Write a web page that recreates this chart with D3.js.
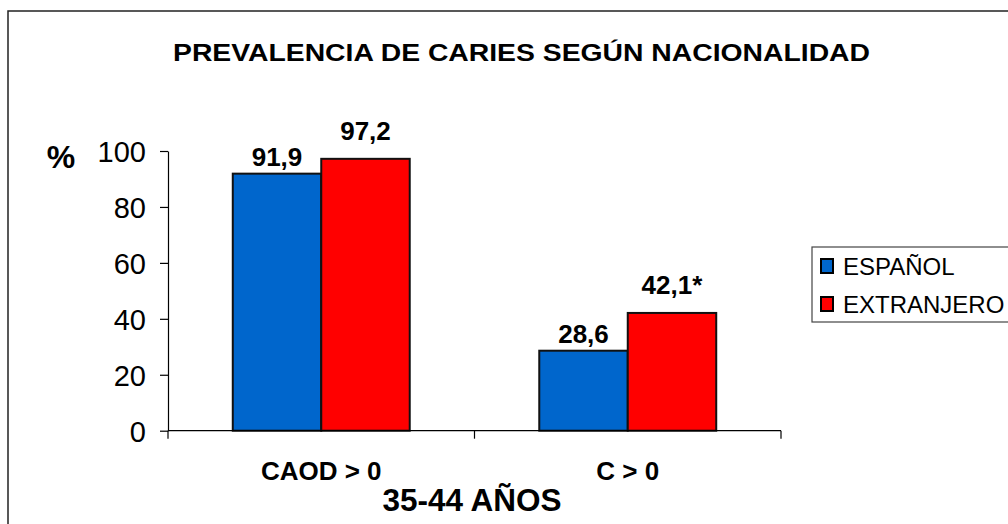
<!DOCTYPE html>
<html>
<head>
<meta charset="utf-8">
<script src="https://cdn.jsdelivr.net/npm/d3@7"></script>
<style>
  html, body { margin: 0; padding: 0; background: #fff; }
  svg { display: block; font-family: Arial, "Liberation Sans", sans-serif; }
</style>
</head>
<body>
<div id="chart"></div>
<script>
const categories = ["CAOD > 0", "C > 0"];
const seriesNames = ["ESPAÑOL", "EXTRANJERO"];
const espanol = [91.9, 28.6];
const extranjero = [97.2, 42.1];
const valueLabels = [["91,9", "28,6"], ["97,2", "42,1*"]];
const yTicks = [0, 20, 40, 60, 80, 100];

const colors = ["#0066cc", "#ff0000"];
const labelLift = [8, 19];
const width = 1008, height = 524;

const svg = d3.select("#chart").append("svg")
    .attr("width", width)
    .attr("height", height);

// outer frame (runs off the right and bottom edges)
svg.append("rect")
    .attr("x", 8).attr("y", 11)
    .attr("width", 1010).attr("height", 530)
    .attr("fill", "none").attr("stroke", "#222").attr("stroke-width", 1.5);

svg.append("text")
    .attr("x", 173).attr("y", 61)
    .attr("textLength", 697).attr("lengthAdjust", "spacingAndGlyphs")
    .style("font-size", "23.5px").style("font-weight", "bold")
    .text("PREVALENCIA DE CARIES SEGÚN NACIONALIDAD");

const x0 = d3.scaleBand().domain(categories).range([168, 781]).padding(0);
const x1 = d3.scaleBand().domain(seriesNames).range([0, x0.bandwidth()])
    .paddingInner(0).paddingOuter(0.732);
const y = d3.scaleLinear().domain([0, 100]).range([430.7, 151]);

// y axis
const yAxis = svg.append("g")
    .attr("transform", `translate(${x0.range()[0]},0)`)
    .call(d3.axisLeft(y).tickValues(yTicks).tickSize(8).tickSizeOuter(0).tickPadding(14));
yAxis.select(".domain").attr("stroke", "#000").attr("stroke-width", 1.2);
yAxis.selectAll(".tick line").attr("stroke", "#000").attr("stroke-width", 1.2);
yAxis.selectAll(".tick text")
    .style("font-size", "29px").style("font-family", "Arial, 'Liberation Sans', sans-serif")
    .attr("fill", "#000").attr("dy", "0.36em");

svg.append("text")
    .attr("x", 61).attr("y", 168)
    .attr("text-anchor", "middle")
    .style("font-size", "32px").style("font-weight", "bold")
    .text("%");

// bars
const seriesValues = [espanol, extranjero];
const barData = [];
categories.forEach((c, ci) => {
    seriesNames.forEach((s, si) => {
        barData.push({ cat: c, series: s, si, value: seriesValues[si][ci], label: valueLabels[si][ci] });
    });
});

svg.append("g").selectAll("rect")
    .data(barData)
    .join("rect")
    .attr("x", d => x0(d.cat) + x1(d.series))
    .attr("y", d => y(d.value))
    .attr("width", x1.bandwidth())
    .attr("height", d => y(0) - y(d.value))
    .attr("fill", d => colors[d.si])
    .attr("stroke", "#111").attr("stroke-width", 2);

svg.append("g").selectAll("text")
    .data(barData)
    .join("text")
    .attr("x", d => x0(d.cat) + x1(d.series) + x1.bandwidth() / 2)
    .attr("y", d => y(d.value) - labelLift[d.si])
    .attr("text-anchor", "middle")
    .style("font-size", "26px").style("font-weight", "bold")
    .text(d => d.label);

// x axis: line with ticks at category boundaries
const xAxis = svg.append("g");
const bounds = categories.map(c => x0(c)).concat([x0.range()[1]]);
xAxis.append("line")
    .attr("x1", x0.range()[0]).attr("x2", x0.range()[1])
    .attr("y1", y(0)).attr("y2", y(0))
    .attr("stroke", "#000").attr("stroke-width", 1.2);
xAxis.selectAll(".xtick")
    .data(bounds)
    .join("line")
    .attr("class", "xtick")
    .attr("x1", d => d).attr("x2", d => d)
    .attr("y1", y(0)).attr("y2", y(0) + 8)
    .attr("stroke", "#000").attr("stroke-width", 1.2);
xAxis.selectAll(".xlabel")
    .data(categories)
    .join("text")
    .attr("class", "xlabel")
    .attr("x", d => x0(d) + x0.bandwidth() / 2)
    .attr("y", 480)
    .attr("text-anchor", "middle")
    .style("font-size", "26px").style("font-weight", "bold")
    .text(d => d);

svg.append("text")
    .attr("x", 472).attr("y", 511)
    .attr("text-anchor", "middle")
    .style("font-size", "31.5px").style("font-weight", "bold")
    .text("35-44 AÑOS");

// legend
const legend = svg.append("g");
legend.append("rect")
    .attr("x", 812).attr("y", 247)
    .attr("width", 210).attr("height", 75)
    .attr("fill", "#fff").attr("stroke", "#444").attr("stroke-width", 1.2);
const items = legend.selectAll(".item")
    .data(seriesNames)
    .join("g")
    .attr("class", "item")
    .attr("transform", (d, i) => `translate(0,${i * 38})`);
items.append("rect")
    .attr("x", 821).attr("y", 259)
    .attr("width", 12).attr("height", 14)
    .attr("fill", (d, i) => colors[i])
    .attr("stroke", "#000").attr("stroke-width", 2);
items.append("text")
    .attr("x", 843).attr("y", 275)
    .style("font-size", "24px")
    .text(d => d);
</script>
</body>
</html>
